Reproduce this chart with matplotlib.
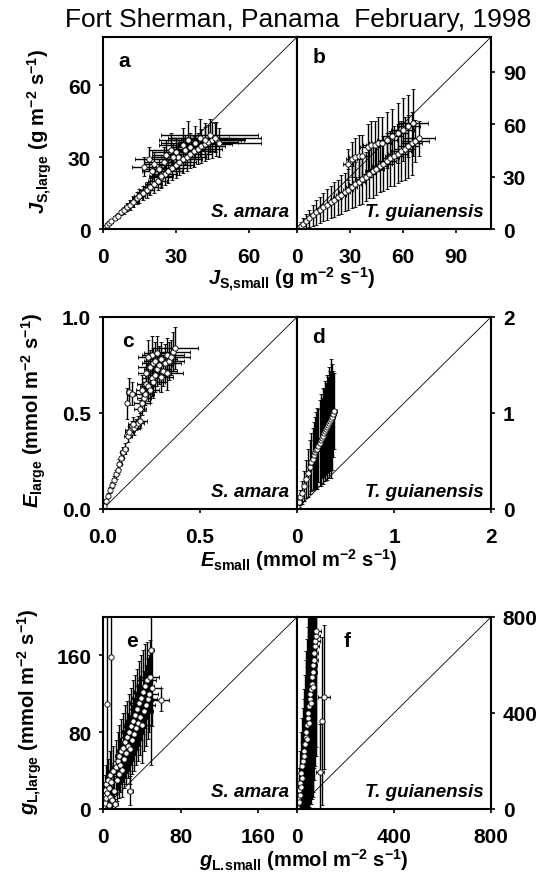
import matplotlib
matplotlib.use("Agg")
import matplotlib.pyplot as plt

plt.rcParams['font.family'] = ['Liberation Sans', 'DejaVu Sans']
plt.rcParams['mathtext.fontset'] = 'custom'
plt.rcParams['mathtext.rm'] = 'Liberation Sans:bold'
plt.rcParams['mathtext.it'] = 'Liberation Sans:italic:bold'
plt.rcParams['mathtext.bf'] = 'Liberation Sans:bold'

# ---- panel a : S. amara, sap flux density (g m-2 s-1)
a_x = [0.5, 1.5, 2.5, 3.5, 5, 6, 7.5, 8.5, 10, 11, 12.5, 14, 15, 16.5, 18, 19.5, 21, 22.5, 24, 25.5,
       27, 28.5, 30, 31.5, 33, 34.5, 36, 37.5, 39, 40.5, 42, 43.5, 45, 46.5,
       17, 19, 21, 23, 25, 26, 28, 30, 31, 33, 35, 36, 38, 40, 42, 44, 46, 48, 20, 24, 29, 34]
a_y = [0.5, 1.5, 2.4, 3.3, 4.6, 5.5, 6.9, 7.8, 9.2, 10.1, 11.4, 12.8, 13.7, 15.0, 16.3, 17.6, 18.9, 20.2, 21.5, 22.8,
       24.0, 25.3, 26.5, 27.8, 29.0, 30.1, 31.3, 32.4, 33.5, 34.5, 35.5, 36.3, 37.0, 37.5,
       26, 29, 27, 25, 28, 31, 33, 32, 30, 35, 37, 34, 36, 38, 37, 39, 38, 36, 24, 22, 30, 33]
a_xe = [0.3, 0.4, 0.5, 0.6, 0.8, 0.9, 1, 1.2, 1.5, 1.6, 1.8, 2, 2.2, 2.5, 3, 3.2, 3.5, 4, 4.5, 5,
        5.5, 6, 7, 7, 8, 8, 9, 9, 10, 10, 11, 12, 13, 12,
        5, 6, 4, 7, 8, 6, 9, 10, 7, 10, 12, 8, 14, 12, 15, 20, 19, 17, 4, 5, 9, 8]
a_ye = [0.3, 0.5, 0.6, 0.8, 1, 1, 1.2, 1.5, 1.8, 2, 2.2, 2.5, 2.8, 3, 3.2, 3.5, 3.8, 4, 4.2, 4.5,
        4.8, 5, 5.2, 5.5, 5.8, 6, 6, 6.5, 6.5, 7, 7, 7, 7.5, 7,
        4, 5, 5, 4, 6, 6, 7, 6, 5, 7, 8, 6, 7, 8, 7, 7, 6, 6, 4, 5, 6, 6]

# ---- panel b : T. guianensis, sap flux density
b_x = [0.5, 2, 3.5, 5, 7, 9, 11, 13, 15, 17, 19, 21, 23, 25, 27, 29, 31, 33, 35, 37, 39, 41, 43, 45,
       47, 49, 51, 53, 55, 57, 59, 61, 63, 65, 67, 69,
       29, 31, 33, 35, 37, 40, 42, 44, 46, 48, 51, 54, 57, 60, 63, 66]
b_y = [0.5, 1.8, 3.1, 4.4, 6.1, 7.8, 9.5, 11.1, 12.6, 14.0, 15.5, 16.9, 18.3, 19.7, 21.1, 22.6, 24.0, 25.5,
       27.0, 28.5, 30.0, 31.5, 33.0, 34.5, 36.0, 37.5, 39.0, 40.4, 41.8, 43.2, 44.6, 46.0, 47.5, 49.0, 50.5, 52.0,
       37, 40, 41, 42, 42, 47, 48, 48, 49, 49, 51, 53, 55, 57, 59, 61]
b_xe = [0.3, 0.6, 0.8, 1, 1.2, 1.4, 1.5, 1.8, 2, 2, 2.2, 2.5, 2.5, 2.8, 3, 3, 3.2, 3.5, 3.5, 3.8, 4, 4,
        4.2, 4.5, 4.5, 4.8, 5, 5, 5.2, 5.5, 5.5, 5.8, 6, 6, 8, 9,
        3, 3, 3.5, 4, 4, 4.5, 4.5, 5, 5, 5.5, 5.5, 6, 6, 6.5, 6.5, 8]
b_ye = [0.5, 2, 3, 4, 5, 6, 7, 7.5, 8, 9, 9, 10, 10, 11, 11, 12, 12, 13, 13, 14, 14, 14, 15, 15,
        15, 16, 16, 16, 17, 17, 17, 18, 18, 18, 12, 10,
        9, 10, 11, 12, 12, 13, 14, 14, 15, 15, 16, 16, 17, 18, 18, 19]

# ---- panel c : S. amara, transpiration (mmol m-2 s-1)
c_x = [0.005, 0.015, 0.025, 0.035, 0.045, 0.055, 0.065, 0.075, 0.085, 0.095, 0.105, 0.115,
       0.13, 0.14, 0.15, 0.16, 0.17, 0.18, 0.19, 0.135, 0.155,
       0.125, 0.135, 0.15, 0.19, 0.2, 0.21, 0.215, 0.2, 0.22, 0.23, 0.24, 0.25, 0.26, 0.27, 0.22,
       0.24, 0.26, 0.28, 0.29, 0.3, 0.31, 0.32, 0.33, 0.34, 0.35, 0.36, 0.37, 0.25, 0.28, 0.3, 0.33, 0.27, 0.23]
c_y = [0.015, 0.04, 0.07, 0.1, 0.125, 0.15, 0.18, 0.205, 0.235, 0.265, 0.295, 0.315,
       0.38, 0.41, 0.43, 0.42, 0.44, 0.45, 0.46, 0.4, 0.445,
       0.55, 0.61, 0.6, 0.52, 0.55, 0.58, 0.6, 0.62, 0.65, 0.64, 0.62, 0.68, 0.66, 0.7, 0.71,
       0.74, 0.76, 0.73, 0.75, 0.78, 0.72, 0.76, 0.8, 0.77, 0.79, 0.82, 0.84, 0.8, 0.81, 0.69, 0.71, 0.77, 0.79]
c_xe = [0.003, 0.004, 0.005, 0.006, 0.007, 0.008, 0.009, 0.01, 0.012, 0.014, 0.015, 0.016,
        0.02, 0.025, 0.02, 0.03, 0.025, 0.03, 0.035, 0.02, 0.025,
        0.01, 0.015, 0.02, 0.03, 0.04, 0.035, 0.05, 0.03, 0.045, 0.04, 0.05, 0.05, 0.06, 0.055, 0.04,
        0.06, 0.06, 0.07, 0.065, 0.08, 0.07, 0.08, 0.09, 0.08, 0.1, 0.09, 0.12, 0.05, 0.07, 0.06, 0.08, 0.06, 0.05]
c_ye = [0.005, 0.01, 0.012, 0.015, 0.018, 0.02, 0.022, 0.025, 0.028, 0.03, 0.03, 0.03,
        0.03, 0.035, 0.03, 0.035, 0.03, 0.035, 0.04, 0.03, 0.035,
        0.08, 0.07, 0.06, 0.05, 0.06, 0.07, 0.06, 0.08, 0.07, 0.08, 0.07, 0.09, 0.08, 0.09, 0.08,
        0.09, 0.08, 0.09, 0.1, 0.09, 0.08, 0.1, 0.09, 0.1, 0.09, 0.1, 0.11, 0.1, 0.09, 0.08, 0.09, 0.1, 0.09]

# ---- panel d : T. guianensis, transpiration
d_x = [0.005, 0.02, 0.035, 0.05, 0.07, 0.09, 0.11, 0.13, 0.145, 0.16, 0.175, 0.19, 0.2, 0.21, 0.22,
       0.235, 0.25, 0.26, 0.27, 0.28, 0.29, 0.3, 0.31, 0.32, 0.33, 0.34, 0.35, 0.36, 0.37, 0.385]
d_y = [0.02, 0.07, 0.12, 0.17, 0.24, 0.31, 0.38, 0.44, 0.49, 0.52, 0.56, 0.59, 0.61, 0.63, 0.66,
       0.69, 0.72, 0.74, 0.76, 0.79, 0.81, 0.83, 0.85, 0.87, 0.9, 0.92, 0.94, 0.96, 0.99, 1.02]
d_xe = [0.003, 0.005, 0.006, 0.008, 0.01, 0.01, 0.012, 0.012, 0.015, 0.015, 0.015, 0.018, 0.018, 0.02, 0.02,
        0.02, 0.02, 0.022, 0.022, 0.022, 0.025, 0.025, 0.025, 0.025, 0.028, 0.028, 0.03, 0.03, 0.03, 0.03]
d_ye = [0.02, 0.05, 0.08, 0.12, 0.16, 0.2, 0.25, 0.28, 0.3, 0.32, 0.35, 0.37, 0.4, 0.42, 0.38,
        0.45, 0.48, 0.42, 0.5, 0.46, 0.52, 0.48, 0.55, 0.5, 0.58, 0.52, 0.62, 0.55, 0.45, 0.4]

# ---- panel e : S. amara, leaf conductance (mmol m-2 s-1)
e_x = [0.5, 1, 1.5, 2, 2.5, 3, 3.5, 4, 4.5, 5, 6, 6.5, 7, 7.5, 8, 8.5, 9, 10, 11, 12, 13, 14, 15, 16,
       17, 18, 19, 20, 21, 22, 23, 24, 25, 26, 27, 28, 28, 29, 30, 31, 32, 33, 34, 35, 36, 37, 38, 39,
       40, 41, 42, 43, 44, 45, 46, 47, 48, 49, 50, 60]
e_y = [3, 8, 14, 20, 6, 26, 11, 17, 109, 30, 4, 22, 13, 35, 158, 28, 9, 40, 19, 5, 44, 30, 50, 36,
       55, 46, 60, 41, 64, 52, 70, 58, 75, 66, 80, 19, 62, 86, 72, 92, 78, 98, 84, 104, 90, 110, 96, 116,
       88, 122, 102, 128, 108, 134, 115, 120, 138, 166, 126, 114]
e_xe = [0.5, 0.8, 1, 1, 1.2, 1.5, 1.5, 2, 1, 2, 2, 2.5, 2.5, 3, 1.5, 3, 3, 3.5, 3.5, 3, 4, 4, 4.5, 4.5,
        5, 5, 5, 5.5, 5.5, 6, 6, 6, 6.5, 6.5, 7, 3, 7, 7, 7.5, 7.5, 8, 8, 8, 8.5, 8.5, 9, 9, 9,
        9, 9.5, 9.5, 10, 10, 10, 10, 10, 10, 4, 10, 8]
e_ye = [3, 6, 10, 15, 5, 20, 8, 14, 200, 22, 4, 16, 10, 25, 200, 20, 8, 26, 15, 5, 28, 22, 30, 25,
        32, 28, 34, 28, 36, 30, 38, 32, 38, 34, 40, 15, 36, 40, 36, 42, 38, 42, 38, 42, 40, 44, 40, 44,
        40, 44, 42, 44, 42, 40, 42, 40, 38, 120, 40, 12]

# ---- panel f : T. guianensis, leaf conductance
f_x = [2, 4, 6, 8, 10, 12, 14, 16, 18, 20, 22, 25, 28, 30, 33, 36, 38, 40, 42, 44, 46, 48, 50, 52,
       54, 56, 58, 60, 62, 64, 66, 68, 70, 72, 74, 76, 78, 80, 95, 104, 112]
f_y = [10, 25, 45, 30, 80, 60, 110, 90, 150, 130, 180, 200, 240, 220, 270, 300, 320, 290, 350, 380,
       400, 360, 430, 460, 480, 440, 500, 520, 550, 510, 570, 600, 620, 650, 680, 700, 720, 740, 153, 365, 465]
f_xe = [2, 3, 3, 4, 4, 5, 5, 6, 6, 7, 7, 8, 8, 9, 9, 10, 10, 10, 11, 11, 12, 12, 12, 13,
        13, 13, 14, 14, 14, 15, 15, 15, 16, 16, 16, 17, 17, 18, 15, 5, 25]
f_ye = [10, 25, 50, 40, 90, 70, 130, 110, 170, 150, 200, 220, 260, 240, 290, 320, 340, 300, 360, 380,
        400, 360, 420, 440, 460, 420, 460, 480, 480, 460, 500, 480, 500, 480, 500, 480, 500, 480, 200, 350, 300]

W, H = 541, 878
fig = plt.figure(figsize=(W / 100, H / 100), dpi=100)

L, M = 103 / W, 297 / W
pw = M - L
ph = 192 / H
rows = [1 - 230 / H, 1 - 510 / H, 1 - 810 / H]

panels = [
    (a_x, a_y, a_xe, a_ye, 80, [0, 30, 60], ['0', '30', '60'], [0, 30, 60], ['0', '30', '60'],
     'a', 'S. amara', (0.08, 0.88)),
    (b_x, b_y, b_xe, b_ye, 110, [0, 30, 60, 90], ['0', '30', '60', '90'], [0, 30, 60, 90], ['0', '30', '60', '90'],
     'b', 'T. guianensis', (0.08, 0.9)),
    (c_x, c_y, c_xe, c_ye, 1.0, [0, 0.5], ['0.0', '0.5'], [0, 0.5, 1.0], ['0.0', '0.5', '1.0'],
     'c', 'S. amara', (0.1, 0.88)),
    (d_x, d_y, d_xe, d_ye, 2.0, [0, 1, 2], ['0', '1', '2'], [0, 1, 2], ['0', '1', '2'],
     'd', 'T. guianensis', (0.08, 0.9)),
    (e_x, e_y, e_xe, e_ye, 200, [0, 80, 160], ['0', '80', '160'], [0, 80, 160], ['0', '80', '160'],
     'e', 'S. amara', (0.12, 0.875)),
    (f_x, f_y, f_xe, f_ye, 800, [0, 400, 800], ['0', '400', '800'], [0, 400, 800], ['0', '400', '800'],
     'f', 'T. guianensis', (0.24, 0.875)),
]

for i, (x, y, xe, ye, lim, xt, xtl, yt, ytl, letter, species, lpos) in enumerate(panels):
    row, col = i // 2, i % 2
    ax = fig.add_axes([L if col == 0 else M, rows[row], pw, ph])
    ax.plot([0, lim], [0, lim], color='k', lw=0.6, zorder=1)
    ax.errorbar(x, y, xerr=xe, yerr=ye, fmt='o', color='k', ecolor='k', elinewidth=1.0,
                capsize=1.5, capthick=0.8, ms=3.8, mfc='white', mec='k', mew=0.6, zorder=2)
    ax.set_xlim(0, lim)
    ax.set_ylim(0, lim)
    ax.set_xticks(xt)
    ax.set_xticklabels(xtl)
    ax.set_yticks(yt)
    ax.set_yticklabels(ytl)
    for s in ax.spines.values():
        s.set_linewidth(1.5)
    ax.tick_params(direction='out', length=3, width=1.2, labelsize=15)
    ax.tick_params(axis='x', pad=10)
    ax.tick_params(axis='y', pad=5.5)
    if col == 0:
        ax.tick_params(left=True, right=False, labelleft=True)
    else:
        ax.tick_params(left=False, right=True, labelleft=False, labelright=True)
    for lab in ax.get_xticklabels() + ax.get_yticklabels():
        lab.set_fontweight('bold')
    ax.text(lpos[0], lpos[1], letter, transform=ax.transAxes, fontsize=15,
            fontweight='bold', ha='left', va='center')
    ax.text(0.96, 0.09, species, transform=ax.transAxes, fontsize=13.5,
            fontweight='bold', style='italic', ha='right', va='center')

fig.text(0.551, 0.969, 'Fort Sherman, Panama  February, 1998', fontsize=19,
         ha='center', va='baseline')

units_g = r'(g m$^{\mathrm{-2}}$ s$^{\mathrm{-1}}$)'
units_m = r'(mmol m$^{\mathrm{-2}}$ s$^{\mathrm{-1}}$)'
lab_kw = dict(fontsize=14.5, fontweight='bold', ha='center', va='center')
fig.text(0.54, 0.681, r'$J_{\mathrm{S{,}small}}$ ' + units_g, **lab_kw)
fig.text(0.553, 0.362, r'$E_{\mathrm{small}}$ ' + units_m, **lab_kw)
fig.text(0.562, 0.021, r'$g_{\mathrm{L.\!small}}$ ' + units_m, **lab_kw)

fig.text(0.074, 0.85, r'$J_{\mathrm{S{,}large}}$ ' + units_g, rotation=90, **lab_kw)
fig.text(0.062, 0.533, r'$E_{\mathrm{large}}$ ' + units_m, rotation=90, **lab_kw)
fig.text(0.056, 0.189, r'$g_{\mathrm{L{,}large}}$ ' + units_m, rotation=90, **lab_kw)

fig.savefig('out.png', dpi=100)
